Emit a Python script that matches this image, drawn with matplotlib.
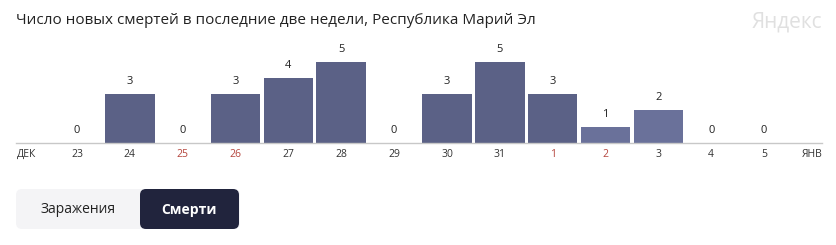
import matplotlib
matplotlib.use("Agg")
import matplotlib.pyplot as plt
from matplotlib.patches import FancyBboxPatch

plt.rcParams['font.family'] = ['Open Sans', 'DejaVu Sans']

days = ["23", "24", "25", "26", "27", "28", "29", "30", "31", "1", "2", "3", "4", "5"]
deaths = [0, 3, 0, 3, 4, 5, 0, 3, 5, 3, 1, 2, 0, 0]
holiday = [False, False, True, True, False, False, False, False, False, True, True, False, False, False]
bar_colors = ["#5b6186"] * 10 + ["#6a719a", "#6a719a", "#5b6186", "#5b6186"]
title = "Число новых смертей в последние две недели, Республика Марий Эл"
month_left, month_right = "ДЕК", "ЯНВ"
buttons = ["Заражения", "Смерти"]

W, H = 836, 245
fig = plt.figure(figsize=(W / 100, H / 100), dpi=100)
fig.patch.set_facecolor("white")

# main axes: baseline at y=143px from top, spans x 16..822 px
step = 52.85
x0 = 77
left_idx = (16 - x0) / step
right_idx = (822 - x0) / step
ymax = 5.5
unit_px = 16.3
ax_h = ymax * unit_px
ax = fig.add_axes([16 / W, (H - 143) / H, 806 / W, ax_h / H])
ax.set_xlim(left_idx, right_idx)
ax.set_ylim(0, ymax)
xs = list(range(len(days)))
ax.bar(xs, deaths, width=0.937, color=bar_colors, linewidth=0)
for x, v in zip(xs, deaths):
    ax.annotate(str(v), (x, v), xytext=(0, 5), textcoords="offset points",
                ha="center", va="bottom", fontsize=8, color="#222222")
for s in ["top", "right", "left"]:
    ax.spines[s].set_visible(False)
ax.spines["bottom"].set_color("#c8c8c8")
ax.spines["bottom"].set_linewidth(1.0)
ax.set_yticks([])
ax.set_xticks(xs)
ax.set_xticklabels(days, fontsize=7.5)
ax.tick_params(axis="x", length=0, pad=4)
for lbl, h in zip(ax.get_xticklabels(), holiday):
    lbl.set_color("#b5463e" if h else "#333333")
ax.annotate(month_left, ((27 - x0) / step, 0), xytext=(0, -4), textcoords="offset points",
            ha="center", va="top", fontsize=7.5, color="#333333")
ax.annotate(month_right, ((812 - x0) / step, 0), xytext=(0, -4), textcoords="offset points",
            ha="center", va="top", fontsize=7.5, color="#333333")

# overlay for title, watermark and buttons (pixel coordinates)
ov = fig.add_axes([0, 0, 1, 1], zorder=-1)
ov.set_xlim(0, W)
ov.set_ylim(H, 0)
ov.axis("off")
ov.text(16, 21, title, fontsize=11, color="#222222", ha="left", va="center")
ov.text(822, 22, "Яндекс", fontsize=15, color="#e0e0e0", ha="right", va="center")
ov.add_patch(FancyBboxPatch((16, 189), 224, 40, boxstyle="round,pad=0,rounding_size=6",
                            facecolor="#f4f4f6", edgecolor="none"))
ov.add_patch(FancyBboxPatch((140, 189), 99, 40, boxstyle="round,pad=0,rounding_size=6",
                            facecolor="#21243d", edgecolor="none"))
ov.text(78, 209.5, buttons[0], fontsize=10, color="#222222", ha="center", va="center")
ov.text(189, 209.5, buttons[1], fontsize=10, color="white", ha="center", va="center",
        fontweight="bold")

fig.savefig("out.png", dpi=100, facecolor="white")
